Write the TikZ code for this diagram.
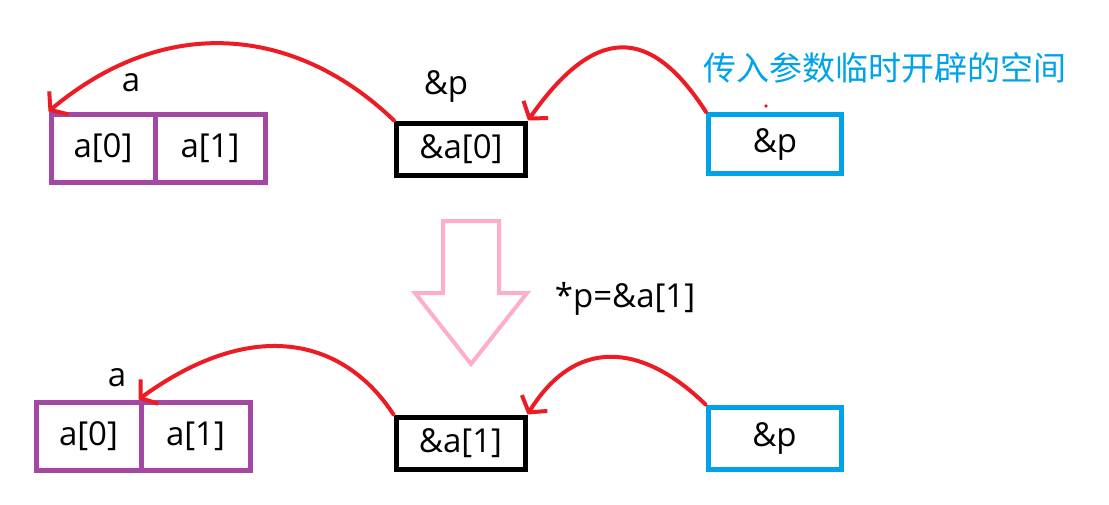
\documentclass[tikz,border=0pt]{standalone}
\usepackage{fontspec}
\setmainfont{Open Sans}
\newfontfamily\cjk{Noto Sans CJK SC}
\usetikzlibrary{arrows.meta}
\definecolor{paintred}{RGB}{237,28,36}
\definecolor{paintpurple}{RGB}{163,73,164}
\definecolor{paintblue}{RGB}{0,162,232}
\definecolor{paintpink}{RGB}{255,174,201}

\begin{document}
\begin{tikzpicture}[x=1pt,y=-1pt,font=\fontsize{33}{38}\selectfont,
        cell/.style={draw=paintpurple,line width=5pt,inner sep=0pt,minimum height=68pt},
        ptr/.style={draw=black,line width=5pt,inner sep=0pt,minimum width=129pt,minimum height=52pt},
        tmp/.style={draw=paintblue,line width=5pt,inner sep=0pt,minimum width=133pt},
        link/.style={draw=paintred,line width=4pt,line cap=round,-{Straight Barb[length=11pt,width=30pt]}}]
                \useasboundingbox (0,0) rectangle (1109,504);

                % vorher
                \node[cell,minimum width=104pt] (a0) at (103,148) {a[0]};
                \node[cell,minimum width=110pt] (a1) at (210,148) {a[1]};
                \node (na) at (131,83) {a};
                \node[ptr] (p) at (461,149) {\&a[0]};
                \node (np) at (446,86) {\&p};
                \node[tmp,minimum height=59pt] (q) at (775,144) {\&p};
                \node[anchor=west,text=paintblue,font=\cjk\fontsize{33}{38}\selectfont] (note) at (700,68) {传入参数临时开辟的空间};
                \fill[paintred] (766,106) circle (1.8pt);

                \draw[link] (p.north west) .. controls (300,30) and (170,10) .. (a0.north west);
                \draw[link] (q.north west) .. controls (650,25) and (595,25) .. (p.north east);

                % Pfeil
                \draw[paintpink,line width=4pt] (443,221) -- (499,221) -- (499,293) -- (527,293)
                        -- (471,364) -- (415,293) -- (443,293) -- cycle;
                \node (step) at (625,299) {*p=\&a[1]};

                % nachher
                \node[cell,minimum width=105pt] (b0) at (88.5,436) {a[0]};
                \node[cell,minimum width=109pt] (b1) at (195.5,436) {a[1]};
                \node (nb) at (117,378) {a};
                \node[ptr] (r) at (460.5,443) {\&a[1]};
                \node[tmp,minimum height=62pt] (s) at (774.5,438) {\&p};

                \draw[link] (r.north west) .. controls (345,340) and (255,315) .. (b1.north west);
                \draw[link] (s.north west) .. controls (650,350) and (580,330) .. (r.north east);
            \end{tikzpicture}
\end{document}
